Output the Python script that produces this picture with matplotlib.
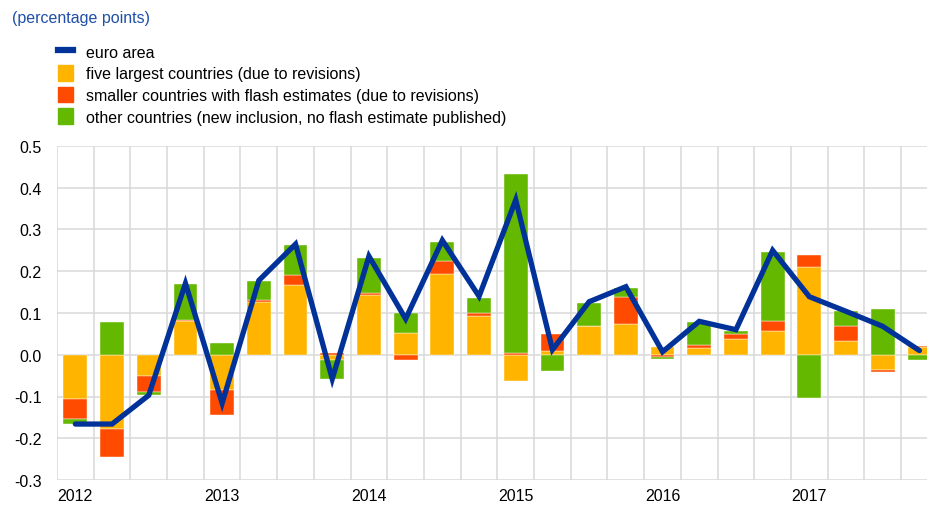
import matplotlib.pyplot as plt
import numpy as np
from matplotlib.lines import Line2D
from matplotlib.patches import Patch

plt.rcParams['font.family'] = ['Liberation Sans', 'DejaVu Sans']

# quarterly, 2012 Q1 .. 2017 Q4
years = ['2012', '2013', '2014', '2015', '2016', '2017']

euro_area = [-0.166, -0.166, -0.097, 0.171,
             -0.116, 0.178, 0.265, -0.058,
             0.236, 0.086, 0.274, 0.140,
             0.371, 0.012, 0.127, 0.163,
             0.007, 0.080, 0.060, 0.250,
             0.139, 0.104, 0.068, 0.010]

five_largest = [-0.106, -0.178, -0.050, 0.081,
                -0.085, 0.127, 0.166, -0.012,
                0.142, 0.052, 0.194, 0.093,
                -0.064, 0.010, 0.068, 0.074,
                0.019, 0.015, 0.038, 0.056,
                0.210, 0.032, -0.036, 0.018]

smaller = [-0.047, -0.067, -0.040, 0.002,
           -0.059, 0.003, 0.025, 0.004,
           0.005, -0.012, 0.031, 0.008,
           0.004, 0.040, 0.000, 0.064,
           -0.006, 0.009, 0.012, 0.026,
           0.030, 0.036, -0.005, 0.003]

other = [-0.013, 0.078, -0.007, 0.087,
         0.029, 0.047, 0.072, -0.046,
         0.085, 0.047, 0.045, 0.035,
         0.430, -0.038, 0.056, 0.022,
         -0.005, 0.054, 0.008, 0.165,
         -0.104, 0.036, 0.110, -0.012]

labels = ['euro area',
          'five largest countries (due to revisions)',
          'smaller countries with flash estimates (due to revisions)',
          'other countries (new inclusion, no flash estimate published)']

c_blue = '#003299'
c_yellow = '#FFB400'
c_red = '#FF4B00'
c_green = '#65B800'

fig = plt.figure(figsize=(9.28, 5.06), dpi=100)
ax = fig.add_axes([57 / 928, 25 / 506, 880.8 / 928, 334 / 506])

x = np.arange(len(euro_area))
pos_base = np.zeros(len(x))
neg_base = np.zeros(len(x))
for vals, col in [(five_largest, c_yellow), (smaller, c_red), (other, c_green)]:
    v = np.array(vals)
    base = np.where(v >= 0, pos_base, neg_base)
    ax.bar(x, v, bottom=base, width=0.65, color=col, edgecolor='white',
           linewidth=0.3, zorder=2)
    pos_base += np.where(v >= 0, v, 0)
    neg_base += np.where(v < 0, v, 0)

ax.plot(x, euro_area, color=c_blue, lw=3.8, zorder=3, solid_capstyle='round',
        solid_joinstyle='miter')

ax.set_xlim(-0.5, 23.5)
ax.set_ylim(-0.3, 0.5)
ax.set_yticks(np.arange(-0.3, 0.51, 0.1))
ax.set_yticklabels(['%.1f' % t for t in np.arange(-0.3, 0.51, 0.1)])
ax.set_xticks(np.arange(0, 24, 4))
ax.set_xticklabels(years)
ax.set_xticks(np.arange(-0.5, 24, 1), minor=True)
ax.grid(axis='y', which='major', color='#d9d9d9', lw=1.1, zorder=0)
ax.grid(axis='x', which='minor', color='#d9d9d9', lw=1.1, zorder=0)
ax.tick_params(axis='both', which='both', length=0, labelsize=11.5)
ax.tick_params(axis='y', pad=11)
ax.tick_params(axis='x', pad=6)
for s in ax.spines.values():
    s.set_visible(False)
ax.set_axisbelow(True)

fig.text(12 / 928, 1 - 19 / 506, '(percentage points)', color='#1f4fa8',
         fontsize=11.5, va='center', ha='left')

handles = [Line2D([0], [0], color=c_blue, lw=4.5),
           Patch(color=c_yellow), Patch(color=c_red), Patch(color=c_green)]
fig.legend(handles, labels, loc='upper left', bbox_to_anchor=(44 / 928, 1 - 30 / 506),
           frameon=False, fontsize=11.5, handlelength=0.9, handleheight=1.15,
           handletextpad=0.8, labelspacing=0.33)

fig.savefig('out.png', dpi=100)
